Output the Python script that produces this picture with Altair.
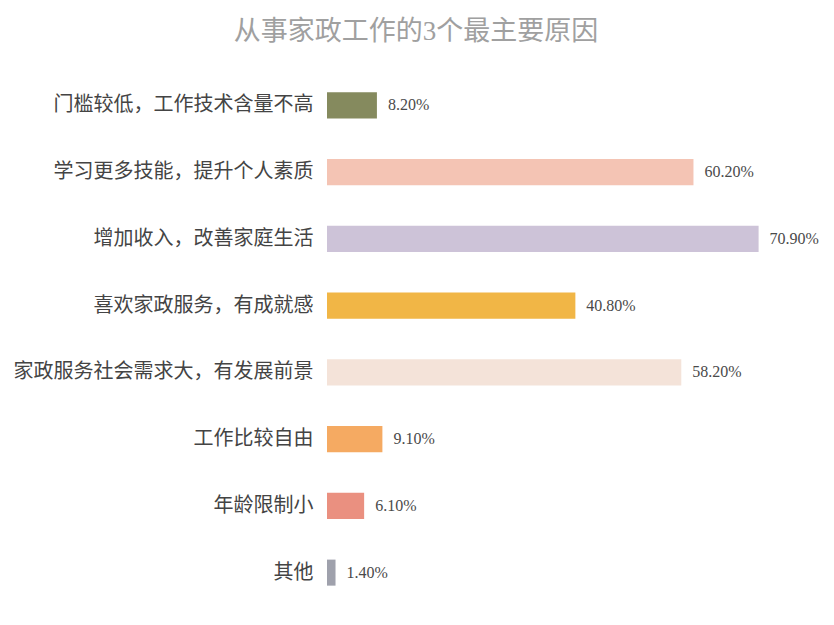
import altair as alt
import pandas as pd

categories = ["门槛较低，工作技术含量不高", "学习更多技能，提升个人素质", "增加收入，改善家庭生活",
              "喜欢家政服务，有成就感", "家政服务社会需求大，有发展前景", "工作比较自由", "年龄限制小", "其他"]
values = [8.2, 60.2, 70.9, 40.8, 58.2, 9.1, 6.1, 1.4]
colors = ["#858a5e", "#f4c4b4", "#cdc3d8", "#f1b646", "#f4e3d9", "#f5aa62", "#ea9080", "#9fa1ac"]

df = pd.DataFrame({"cat": categories, "val": values, "color": colors,
                   "label": [f"{v:.2f}%" for v in values]})

FONT = "Liberation Serif, Noto Sans CJK SC"

y = alt.Y("cat:N", sort=categories,
          scale=alt.Scale(paddingInner=0.61, paddingOuter=0.305),
          axis=alt.Axis(title=None, ticks=False, domain=False, labelPadding=14,
                        labelFontSize=20, labelColor="#444444", labelFont=FONT, labelLimit=400))
x = alt.X("val:Q", scale=alt.Scale(domain=[0, 80]), axis=None)

bars = alt.Chart(df).mark_bar().encode(x=x, y=y, color=alt.Color("color:N", scale=None))
text = alt.Chart(df).mark_text(align="left", dx=11, fontSize=16, font=FONT, color="#4a4a4a").encode(
    x=x, y=y, text="label:N")

chart = (bars + text).properties(
    width=487, height=534,
    background="white",
    title=alt.TitleParams("从事家政工作的3个最主要原因", fontSize=27, color="#a0a0a0",
                          font=FONT, fontWeight="normal", anchor="middle", frame="bounds", offset=26),
    autosize=alt.AutoSizeParams(type="none"),
    padding={"left": 327, "top": 72, "right": 20, "bottom": 19},
).configure_view(strokeWidth=0)

chart.save("out.html", embed_options={"renderer": "svg", "actions": False})
